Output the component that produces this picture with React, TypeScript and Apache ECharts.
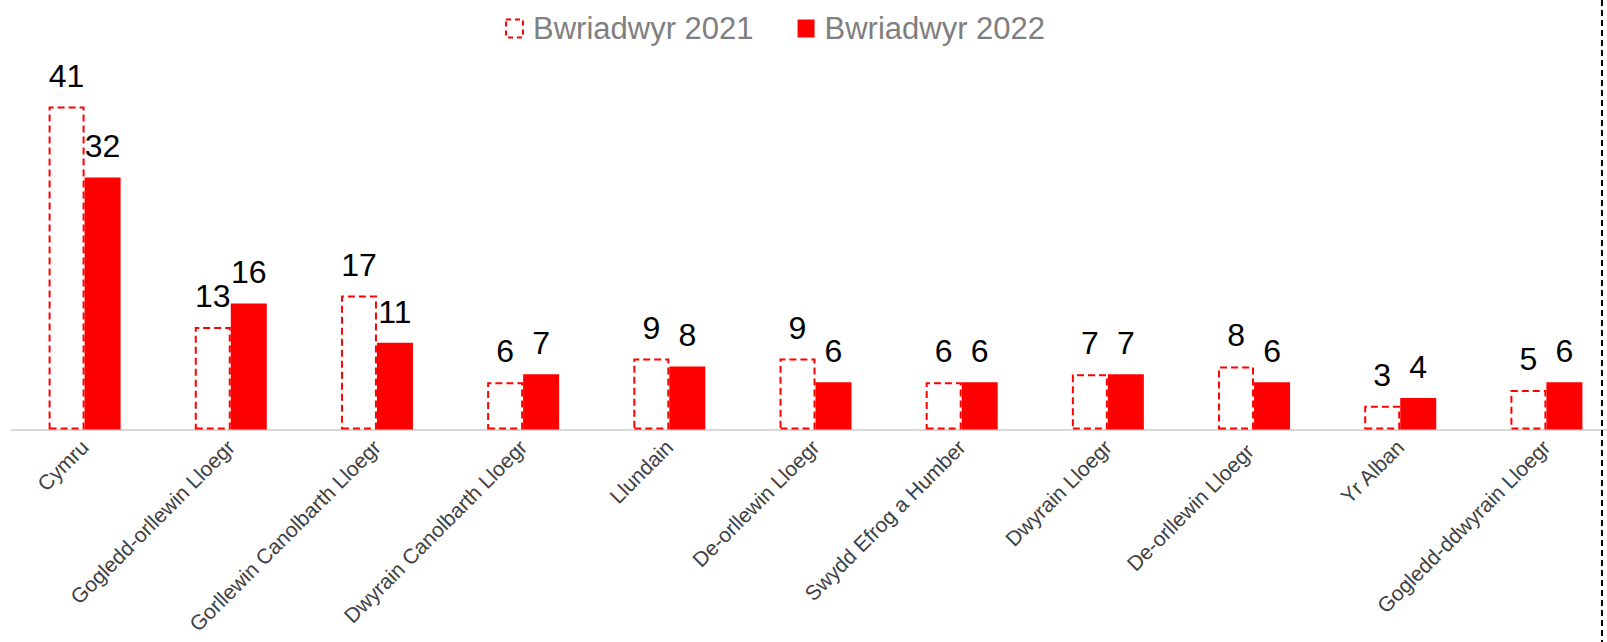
import React, { useEffect, useRef } from "react";
import * as echarts from "echarts";

const categories = [
  "Cymru",
  "Gogledd-orllewin Lloegr",
  "Gorllewin Canolbarth Lloegr",
  "Dwyrain Canolbarth Lloegr",
  "Llundain",
  "De-orllewin Lloegr",
  "Swydd Efrog a Humber",
  "Dwyrain Lloegr",
  "De-orllewin Lloegr ",
  "Yr Alban",
  "Gogledd-ddwyrain Lloegr",
];
const series2021Name = "Bwriadwyr 2021";
const series2022Name = "Bwriadwyr 2022";
const values2021 = [41, 13, 17, 6, 9, 9, 6, 7, 8, 3, 5];
const values2022 = [32, 16, 11, 7, 8, 6, 6, 7, 6, 4, 6];

const RED = "#FF0000";
const FONT = "Arial, 'Liberation Sans', sans-serif";

export default function App() {
  const ref = useRef<HTMLDivElement>(null);
  useEffect(() => {
    if (!ref.current) return;
    const chart = echarts.init(ref.current, undefined, { renderer: "svg" });
    const labelStyle = {
      show: true,
      position: "top" as const,
      distance: 15,
      fontSize: 32,
      color: "#000000",
      fontFamily: FONT,
    };
    chart.setOption({
      animation: false,
      backgroundColor: "#ffffff",
      legend: {
        left: 500,
        top: 8,
        icon: "rect",
        itemWidth: 17,
        itemHeight: 18,
        itemGap: 44,
        textStyle: {
          fontSize: 31,
          color: "#7F7F7F",
          fontFamily: FONT,
          padding: [0, 0, 0, 5],
        },
        data: [
          {
            name: series2021Name,
            itemStyle: {
              color: "#ffffff",
              borderColor: RED,
              borderWidth: 2,
              borderType: [5, 4],
            },
          },
          { name: series2022Name, itemStyle: { color: RED } },
        ],
      },
      grid: {
        left: 11.5,
        top: 75,
        width: 1608,
        bottom: 212.5,
        containLabel: false,
        outerBoundsMode: "none",
      },
      xAxis: {
        type: "category",
        data: categories,
        axisLine: { show: true, lineStyle: { color: "#D9D9D9", width: 2 } },
        axisTick: { show: false },
        axisLabel: {
          interval: 0,
          rotate: 45,
          margin: 14,
          fontSize: 21,
          color: "#404040",
          fontFamily: FONT,
        },
      },
      yAxis: {
        type: "value",
        min: 0,
        max: 45,
        show: false,
        splitLine: { show: false },
      },
      series: [
        {
          name: series2021Name,
          type: "bar",
          data: values2021,
          barWidth: 36,
          barGap: "0%",
          itemStyle: {
            color: "#ffffff",
            borderColor: RED,
            borderWidth: 2,
            borderType: [7, 4],
          },
          label: labelStyle,
        },
        {
          name: series2022Name,
          type: "bar",
          data: values2022,
          barWidth: 36,
          barGap: "0%",
          itemStyle: { color: RED },
          label: labelStyle,
        },
      ],
      graphic: [
        {
          type: "line",
          shape: { x1: 1602, y1: 0, x2: 1602, y2: 642 },
          style: { stroke: "#000000", lineWidth: 2, lineDash: [6, 4] },
          z: 100,
        },
      ],
    });
    return () => chart.dispose();
  }, []);
  return (
    <div
      ref={ref}
      style={{ position: "absolute", left: 0, top: 0, width: 1607, height: 642 }}
    />
  );
}
